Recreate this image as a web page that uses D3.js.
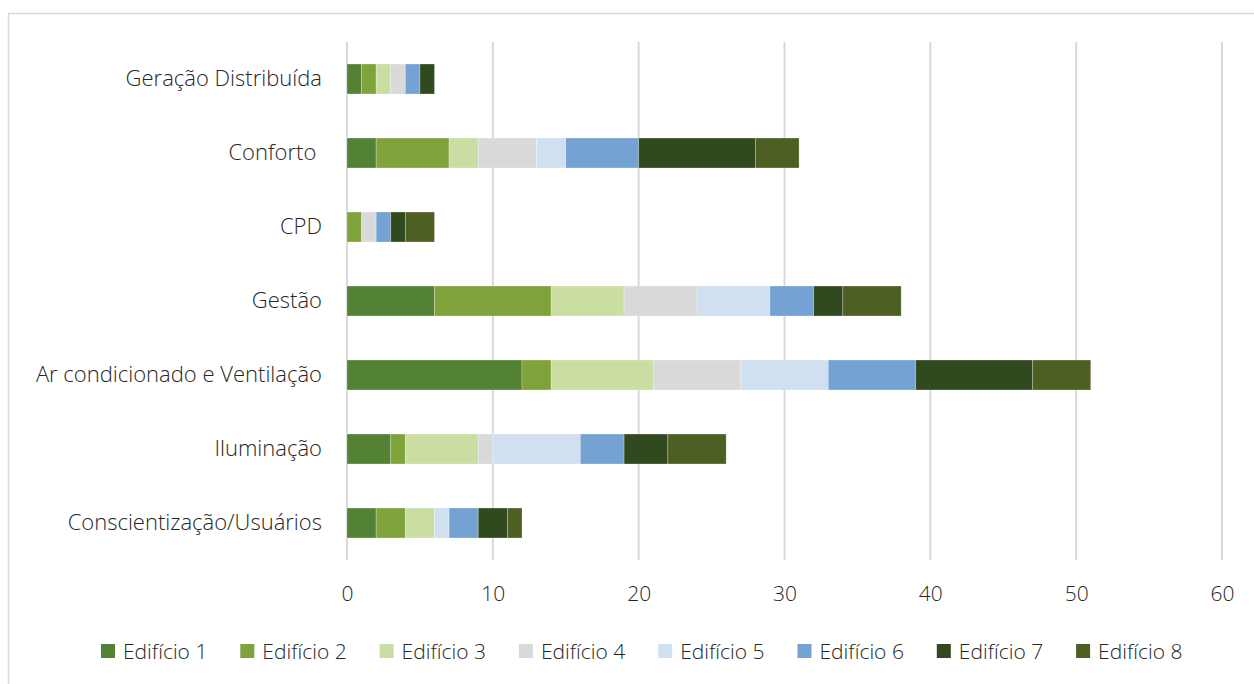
<!DOCTYPE html>
<html>
<head>
<meta charset="utf-8">
<script src="https://cdn.jsdelivr.net/npm/d3@7"></script>
<style>
  html, body { margin: 0; padding: 0; background: #fff; }
  svg { display: block; }
  text { font-family: "Open Sans", "Noto Sans", sans-serif; font-weight: 300; fill: #262626; white-space: pre; }
</style>
</head>
<body>
<svg id="chart" width="1254" height="684"></svg>
<script>
// Categories, top to bottom
const categories = [
  "Geração Distribuída",
  "Conforto ",
  "CPD",
  "Gestão",
  "Ar condicionado e Ventilação",
  "Iluminação",
  "Conscientização/Usuários"
];

const seriesNames = ["Edifício 1", "Edifício 2", "Edifício 3", "Edifício 4",
                     "Edifício 5", "Edifício 6", "Edifício 7", "Edifício 8"];

// Values per building, in category order
const edificio1 = [1, 2, 0, 6, 12, 3, 2];
const edificio2 = [1, 5, 1, 8, 2, 1, 2];
const edificio3 = [1, 2, 0, 5, 7, 5, 2];
const edificio4 = [1, 4, 1, 5, 6, 1, 0];
const edificio5 = [0, 2, 0, 5, 6, 6, 1];
const edificio6 = [1, 5, 1, 3, 6, 3, 2];
const edificio7 = [1, 8, 1, 2, 8, 3, 2];
const edificio8 = [0, 3, 2, 4, 4, 4, 1];

const seriesValues = [edificio1, edificio2, edificio3, edificio4,
                      edificio5, edificio6, edificio7, edificio8];

const seriesColors = ["#548235", "#7fa23b", "#cadea3", "#d9d9d9",
                      "#d0e0f0", "#73a2d3", "#31491e", "#4e5f24"];

const xTicks = [0, 10, 20, 30, 40, 50, 60];

const svg = d3.select("#chart");

// Outer chart frame
svg.append("rect")
  .attr("x", 8.5).attr("y", 13.5)
  .attr("width", 1300).attr("height", 700)
  .attr("fill", "none").attr("stroke", "#d9d9d9").attr("stroke-width", 1.5);

const plot = { left: 347, right: 1222, top: 42, bottom: 560 };

const x = d3.scaleLinear().domain([0, 60]).range([plot.left, plot.right]);
const y = d3.scaleBand().domain(categories).range([plot.top, plot.bottom]).paddingInner(0.595).paddingOuter(0.2975);

// Vertical gridlines
svg.append("g")
  .selectAll("line")
  .data(xTicks)
  .join("line")
  .attr("x1", d => x(d)).attr("x2", d => x(d))
  .attr("y1", plot.top).attr("y2", plot.bottom)
  .attr("stroke", "#d9d9d9").attr("stroke-width", 2);

// Stacked table
const rows = categories.map((c, i) => {
  const r = { category: c };
  seriesNames.forEach((s, j) => { r[s] = seriesValues[j][i]; });
  return r;
});
const stacked = d3.stack().keys(seriesNames)(rows);

svg.append("g")
  .selectAll("g")
  .data(stacked)
  .join("g")
  .attr("fill", (d, i) => seriesColors[i])
  .selectAll("rect")
  .data(d => d.filter(p => p[1] - p[0] > 0))
  .join("rect")
  .attr("x", d => x(d[0]))
  .attr("width", d => x(d[1]) - x(d[0]))
  .attr("y", d => y(d.data.category))
  .attr("height", y.bandwidth())
  .attr("stroke", "#ffffff").attr("stroke-opacity", 0.35).attr("stroke-width", 0.75);

// Category labels
const yAxis = d3.axisLeft(y).tickSize(0).tickPadding(25);
const yg = svg.append("g").attr("transform", `translate(${plot.left},0)`).call(yAxis);
yg.select(".domain").remove();
yg.selectAll("text")
  .attr("font-size", 22)
  .attr("fill", "#262626")
  .style("font-family", "'Open Sans', 'Noto Sans', sans-serif");

// Value axis labels
const xAxis = d3.axisBottom(x).tickValues(xTicks).tickSize(0).tickPadding(26);
const xg = svg.append("g").attr("transform", `translate(0,${plot.bottom})`).call(xAxis);
xg.select(".domain").remove();
xg.selectAll("text")
  .attr("font-size", 21)
  .attr("fill", "#262626")
  .style("font-family", "'Open Sans', 'Noto Sans', sans-serif");

// Legend
const legend = svg.append("g").attr("transform", "translate(101,644)");
const item = legend.selectAll("g")
  .data(seriesNames)
  .join("g")
  .attr("transform", (d, i) => `translate(${i * 139.3},0)`);
item.append("rect")
  .attr("width", 14).attr("height", 14)
  .attr("fill", (d, i) => seriesColors[i]);
item.append("text")
  .attr("x", 22).attr("y", 7)
  .attr("dy", "0.36em")
  .attr("font-size", 21)
  .text(d => d);
</script>
</body>
</html>
